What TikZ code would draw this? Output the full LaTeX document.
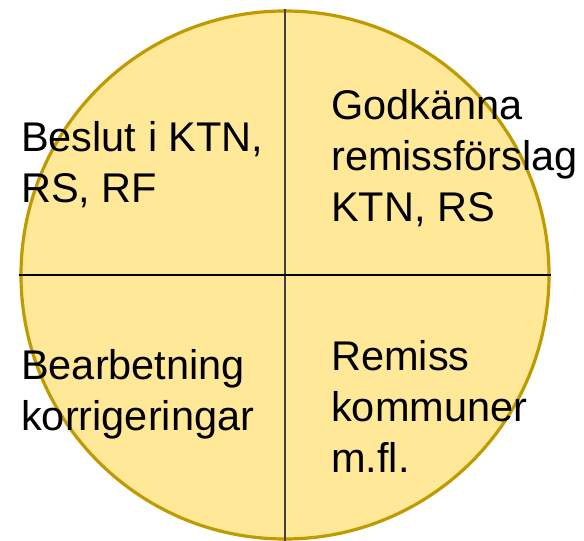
\documentclass[tikz,border=0pt]{standalone}
\usepackage{fontspec}
\setmainfont{Liberation Sans}
\definecolor{ringgold}{HTML}{BF9A00}
\definecolor{discfill}{HTML}{FFE999}
\definecolor{vline}{HTML}{404040}
\tikzset{
    disc/.style={circle,draw=ringgold,fill=discfill,line width=3.2pt,minimum size=528pt,inner sep=0pt},
    quarter/.style={anchor=base west,align=left,inner sep=0pt,font=\fontsize{41.5}{51}\selectfont},
    divider/.style={line width=1.8pt},
    }
\begin{document}
\begin{tikzpicture}[x=1pt,y=-1pt]
	\useasboundingbox (0,0) rectangle (584,541);
	\node[disc] (c) at (285,275) {};

	\draw[divider,vline] (c.north) to (c.south);
	\draw[divider,black] (c.west) to (c.east);

	% base anchor sits on the last line
	\node[quarter] (nw) at (21,202) {Beslut i KTN,\\RS, RF};
	\node[quarter] (ne) at (331,221) {Godkänna\\remissförslag\\KTN, RS};
	\node[quarter] (sw) at (21,430) {Bearbetning\\korrigeringar};
	\node[quarter] (se) at (331,472) {Remiss\\kommuner\\m.fl.};
\end{tikzpicture}
\end{document}
